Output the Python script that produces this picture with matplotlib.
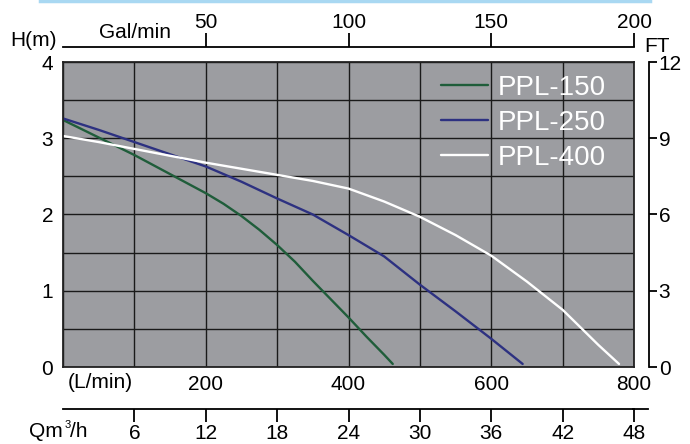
import numpy as np
import matplotlib
matplotlib.use("Agg")
import matplotlib.pyplot as plt
from matplotlib.lines import Line2D

# ---- data (flow in L/min, head in m) ----
flow_150 = [0, 50, 100, 150, 200, 225, 250, 275, 300, 325, 350, 375, 400, 425, 450, 462]
head_150 = [3.24, 3.01, 2.78, 2.53, 2.28, 2.14, 1.98, 1.80, 1.60, 1.38, 1.13, 0.89, 0.65, 0.40, 0.16, 0.04]

flow_250 = [0, 50, 100, 150, 200, 250, 300, 350, 400, 450, 500, 550, 600, 644]
head_250 = [3.26, 3.11, 2.95, 2.79, 2.63, 2.43, 2.21, 2.00, 1.73, 1.45, 1.08, 0.73, 0.37, 0.04]

flow_400 = [0, 50, 100, 150, 200, 250, 300, 350, 400, 450, 500, 550, 600, 650, 700, 750, 779]
head_400 = [3.03, 2.95, 2.86, 2.77, 2.68, 2.60, 2.52, 2.44, 2.34, 2.17, 1.97, 1.73, 1.46, 1.12, 0.75, 0.29, 0.04]

series_names = ["PPL-150", "PPL-250", "PPL-400"]
series_colors = ["#1f5d3a", "#2d3181", "#ffffff"]

lmin_ticks = [200, 400, 600, 800]
head_ticks = [0, 1, 2, 3, 4]
gal_ticks = [50, 100, 150, 200]
m3h_ticks = [6, 12, 18, 24, 30, 36, 42, 48]
ft_ticks = [0, 3, 6, 9, 12]

W, H = 690, 444
plt.rcParams['font.family'] = ['Liberation Sans', 'DejaVu Sans']
FS = 15
fig = plt.figure(figsize=(W / 100, H / 100), dpi=100)

def px(x, y):
    return x / W, 1 - y / H

L, R, T, B = 63, 634, 62, 367
ax = fig.add_axes([L / W, (H - B) / H, (R - L) / W, (B - T) / H])
ax.set_facecolor("#9c9da1")
ax.set_xlim(0, 800)
ax.set_ylim(0, 4)

ax.set_xticks(lmin_ticks)
ax.set_xticks(np.arange(0, 801, 100), minor=True)
ax.set_yticks(head_ticks)
ax.set_yticks(np.arange(0, 4.01, 0.5), minor=True)
ax.grid(which="both", color="#1a1a1a", lw=1.0)
ax.set_axisbelow(True)
ax.tick_params(which="both", length=0)
ax.tick_params(axis="x", pad=6, labelsize=FS)
ax.tick_params(axis="y", pad=7, labelsize=FS)
for s in ax.spines.values():
    s.set_color("#222222")
    s.set_linewidth(1.3)

for fx, hy, name, c in zip([flow_150, flow_250, flow_400],
                           [head_150, head_250, head_400],
                           series_names, series_colors):
    ax.plot(fx, hy, color=c, lw=1.7, label=name,
            solid_joinstyle="round", solid_capstyle="round")

leg = ax.legend(loc="upper right", bbox_to_anchor=(0.98, 1.013), frameon=False,
                handlelength=1.7, handletextpad=0.35,
                labelspacing=0.33, borderaxespad=0.2,
                prop={"family": "Liberation Sans", "size": 20})
for t in leg.get_texts():
    t.set_color("white")

# top Gal/min axis
top = ax.secondary_xaxis("top", functions=(lambda x: x / 4.0, lambda g: g * 4.0))
top.set_xticks(gal_ticks)
top.spines["top"].set_position(("outward", 15 * 0.72))
top.spines["top"].set_linewidth(1.3)
top.tick_params(direction="out", length=10, width=1.3, pad=1, labelsize=FS)

# bottom m3/h axis
bot = ax.secondary_xaxis("bottom", functions=(lambda x: x * 0.06, lambda q: q / 0.06))
bot.set_xticks(m3h_ticks)
bot.spines["bottom"].set_position(("outward", 42 * 0.72))
bot.spines["bottom"].set_linewidth(1.3)
bot.tick_params(direction="out", length=9, width=1.3, pad=2, labelsize=FS)
fig.add_artist(Line2D([px(633, 0)[0], px(648, 0)[0]], [px(0, 409)[1]] * 2,
                      color="black", lw=1.3))

# right FT axis
rgt = ax.secondary_yaxis("right", functions=(lambda h: h * 3.0, lambda f: f / 3.0))
rgt.set_yticks(ft_ticks)
rgt.spines["right"].set_position(("outward", 15 * 0.72))
rgt.spines["right"].set_linewidth(1.3)
rgt.tick_params(direction="out", length=6, width=1.3, pad=1, labelsize=FS)

# labels
fig.text(*px(33, 40), "H(m)", ha="center", va="center", fontsize=FS)
fig.text(*px(135, 33), "Gal/min", ha="center", va="center", fontsize=FS)
fig.text(*px(657, 47), "FT", ha="center", va="center", fontsize=FS)
fig.text(*px(100, 383), "(L/min)", ha="center", va="center", fontsize=FS)
fig.text(*px(63, 437), "Qm", ha="right", va="baseline", fontsize=FS)
fig.text(*px(65, 420), "3", ha="left", va="top", fontsize=8)
fig.text(*px(70, 437), "/h", ha="left", va="baseline", fontsize=FS)

# light blue decoration at top
fig.add_artist(Line2D([px(40, 0)[0], px(650, 0)[0]], [px(0, 1.5)[1]] * 2,
                      color="#a9d8f2", lw=2.5))

fig.savefig("out.png", dpi=100)
